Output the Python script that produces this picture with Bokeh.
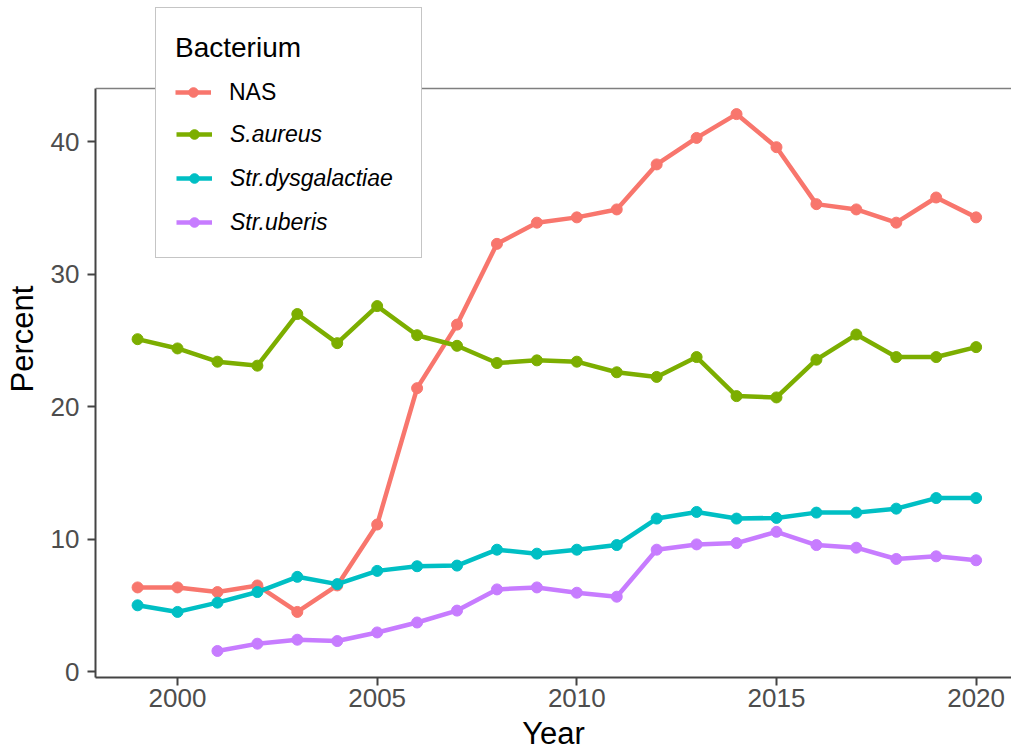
from bokeh.plotting import figure
from bokeh.models import Range1d, FixedTicker, Legend, LegendItem, Span
from bokeh.embed import file_html
from bokeh.resources import INLINE

years = list(range(1999, 2021))
years_uberis = list(range(2001, 2021))

nas = [6.35, 6.35, 6.0, 6.5, 4.5, 6.5, 11.1, 21.4, 26.2, 32.3, 33.9, 34.3,
       34.9, 38.3, 40.3, 42.1, 39.6, 35.3, 34.9, 33.9, 35.8, 34.3]
s_aureus = [25.1, 24.4, 23.4, 23.1, 27.0, 24.8, 27.6, 25.4, 24.6, 23.3, 23.5,
            23.4, 22.6, 22.25, 23.75, 20.8, 20.7, 23.55, 25.45, 23.75, 23.75, 24.5]
str_dys = [5.0, 4.5, 5.2, 6.0, 7.15, 6.6, 7.6, 7.95, 8.0, 9.2, 8.9, 9.2, 9.55,
           11.55, 12.05, 11.55, 11.6, 12.0, 12.0, 12.3, 13.1, 13.1]
str_uberis = [1.55, 2.1, 2.4, 2.3, 2.95, 3.7, 4.6, 6.2, 6.35, 5.95, 5.65, 9.2,
              9.6, 9.7, 10.55, 9.55, 9.35, 8.5, 8.7, 8.4]

names = ["NAS", "S.aureus", "Str.dysgalactiae", "Str.uberis"]
colors = ["#F8766D", "#7CAE00", "#00BFC4", "#C77CFF"]
xticks = [2000, 2005, 2010, 2015, 2020]
yticks = [0, 10, 20, 30, 40]

FONT = "Liberation Sans"
Y_LOW, Y_PANEL_TOP, Y_FRAME_TOP = -0.453, 44.03, 50.68

p = figure(width=1011, height=753, output_backend="svg", toolbar_location=None,
           x_range=Range1d(1997.946, 2020.886),
           y_range=Range1d(Y_LOW, Y_FRAME_TOP),
           min_border_left=95, min_border_right=0, min_border_top=0,
           min_border_bottom=76, x_axis_label="Year", y_axis_label="Percent")
p.outline_line_color = None
p.xgrid.visible = False
p.ygrid.visible = False
p.background_fill_color = "white"
p.border_fill_color = "white"

for ax in (p.xaxis[0], p.yaxis[0]):
    ax.axis_line_color = "#444444"
    ax.axis_line_width = 2
    ax.major_tick_line_color = "#444444"
    ax.major_tick_line_width = 2
    ax.major_tick_out = 8
    ax.major_tick_in = 0
    ax.minor_tick_line_color = None
    ax.major_label_text_font = FONT
    ax.major_label_text_font_size = "26px"
    ax.major_label_text_color = "#4D4D4D"
    ax.axis_label_text_font = FONT
    ax.axis_label_text_font_size = "31px"
    ax.axis_label_text_font_style = "normal"
    ax.axis_label_text_color = "black"

p.xaxis[0].ticker = FixedTicker(ticks=xticks)
p.yaxis[0].ticker = FixedTicker(ticks=yticks)
p.yaxis[0].bounds = (Y_LOW, Y_PANEL_TOP)
p.xaxis[0].major_label_standoff = 3
p.xaxis[0].axis_label_standoff = 6
p.yaxis[0].major_label_standoff = 8
p.yaxis[0].axis_label_standoff = 8

top_line = Span(location=Y_PANEL_TOP, dimension="width", line_color="#7f7f7f",
                line_width=1.5)
p.add_layout(top_line)

series = [(years, nas), (years, s_aureus), (years, str_dys), (years_uberis, str_uberis)]
items = []
for (xs, ys), name, col in zip(series, names, colors):
    lr = p.line(xs, ys, line_color=col, line_width=4.5, line_join="round")
    sr = p.scatter(xs, ys, size=11, fill_color=col, line_color=col)
    items.append(LegendItem(label=name, renderers=[lr, sr]))

legend_box = Legend(items=items[1:], location=(60, 419), title=" ",
                    title_text_font=FONT, title_text_font_size="28px",
                    title_standoff=59, padding=20, spacing=14,
                    glyph_width=36, glyph_height=24, label_height=30,
                    label_width=171, label_standoff=18,
                    label_text_font=FONT, label_text_font_size="23px",
                    label_text_font_style="italic", label_text_color="black",
                    border_line_color="#8c8c8c", border_line_width=1.5,
                    background_fill_color="white", background_fill_alpha=1.0,
                    margin=0)
legend_top = Legend(items=items[:1], location=(80, 570), title="Bacterium",
                    title_text_font=FONT, title_text_font_size="28px",
                    title_text_font_style="normal", title_text_color="black",
                    title_standoff=13, padding=0, spacing=14,
                    glyph_width=36, glyph_height=24, label_height=30,
                    label_standoff=18, label_text_font=FONT,
                    label_text_font_size="23px", label_text_color="black",
                    border_line_color=None, background_fill_alpha=0.0,
                    margin=0)
p.add_layout(legend_box, "center")
p.add_layout(legend_top, "center")

open("out.html", "w").write(file_html(p, INLINE))
